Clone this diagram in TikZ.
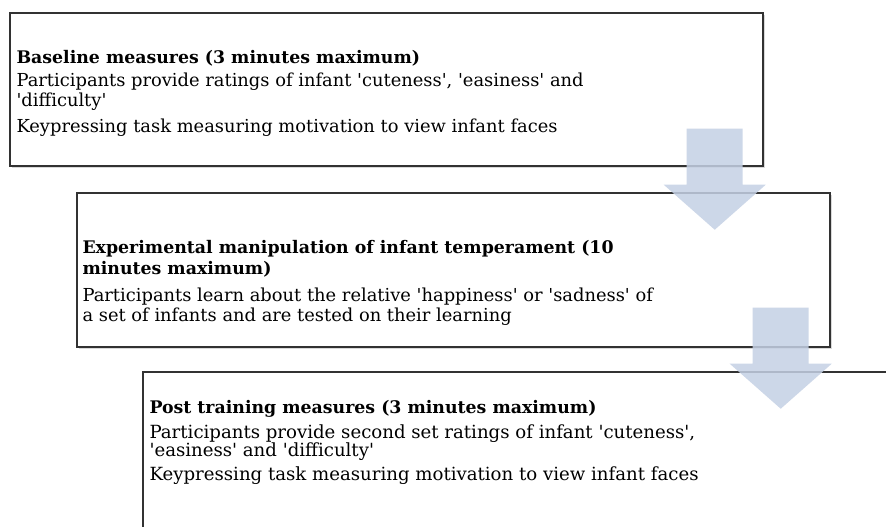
\documentclass[tikz,border=0pt]{standalone}
\usepackage{fontspec}
\setmainfont{DejaVu Serif}[Ligatures=TeXOff]
\usepackage{xcolor}
\usepackage{tikz}
\usetikzlibrary{calc, fit, shadows, positioning}

\definecolor{boxline}{RGB}{50,50,50}
\definecolor{arrowblue}{RGB}{196,208,228}

\newcommand{\postfont}{\fontsize{13.6}{13.6}\selectfont\setlength{\lineskiplimit}{-8pt}}

\tikzset{
	stagebox/.style={draw=boxline, line width=1.1pt, fill=white, inner sep=0pt,
		drop shadow={opacity=0.3, shadow xshift=1.3pt, shadow yshift=-1.3pt}},
	stagetitle/.style={anchor=north west, inner sep=0pt, align=left,
		font=\fontsize{13}{15.5}\selectfont\bfseries},
	stagetext/.style={anchor=north west, inner sep=0pt, align=left,
		font=\fontsize{13.4}{15.5}\selectfont},
	posttext/.style={stagetext, font=\postfont},
	flowarrow/.style={fill=arrowblue, fill opacity=0.85}
}

\begin{document}
\begin{tikzpicture}[x=0.75pt, y=-0.75pt]
	\def\shaftW{56};
	\def\shaftH{56};
	\def\headW{23};
	\def\tipH{45};

	\useasboundingbox (0,0) rectangle (886,526);
	\clip (0,0) rectangle (886,526);

	\begin{scope}
		\node[stagebox, fit={(10,13) (763,166)}] (baseline) {};
		\node[stagetitle] (baselineTitle) at ($(baseline.north west)+(7,38)$) {Baseline measures (3 minutes maximum)};
		\node[stagetext] (baselineRatings) at ($(baseline.north west)+(7,60)$) {Participants provide ratings of infant 'cuteness', 'easiness' and\\'difficulty'};
		\node[stagetext] (baselineKeys) at ($(baseline.north west)+(7,106)$) {Keypressing task measuring motivation to view infant faces};
	\end{scope}

	\begin{scope}
		\node[stagebox, fit={(77,193) (830,347)}] (manipulation) {};
		\node[stagetitle] (manipulationTitle) at ($(manipulation.north west)+(6,48)$) {Experimental manipulation of infant temperament (10\\minutes maximum)};
		\node[stagetext] (manipulationLearn) at ($(manipulation.north west)+(6,95)$) {Participants learn about the relative 'happiness' or 'sadness' of\\a set of infants and are tested on their learning};
	\end{scope}

	\begin{scope}
		\node[stagebox, fit={(143,372) (960,620)}] (post) {};
		\node[stagetitle] (postTitle) at ($(post.north west)+(7,29)$) {Post training measures (3 minutes maximum)};
		\node[posttext] (postRatings) at ($(post.north west)+(7,53)$) {Participants provide second set ratings of infant 'cuteness',\\'easiness' and 'difficulty'};
		\node[posttext] (postKeys) at ($(post.north west)+(7,95)$) {Keypressing task measuring motivation to view infant faces};
	\end{scope}

	\fill[flowarrow] ($(baseline.south east)+(-77,-38)$) -- ++(0,\shaftH) -- ++(-\headW,0) -- ++(\shaftW/2+\headW,\tipH) -- ++(\shaftW/2+\headW,-\tipH) -- ++(-\headW,0) -- ++(0,-\shaftH) -- cycle;
	\fill[flowarrow] ($(manipulation.south east)+(-78,-40)$) -- ++(0,\shaftH) -- ++(-\headW,0) -- ++(\shaftW/2+\headW,\tipH) -- ++(\shaftW/2+\headW,-\tipH) -- ++(-\headW,0) -- ++(0,-\shaftH) -- cycle;
\end{tikzpicture}
\end{document}
